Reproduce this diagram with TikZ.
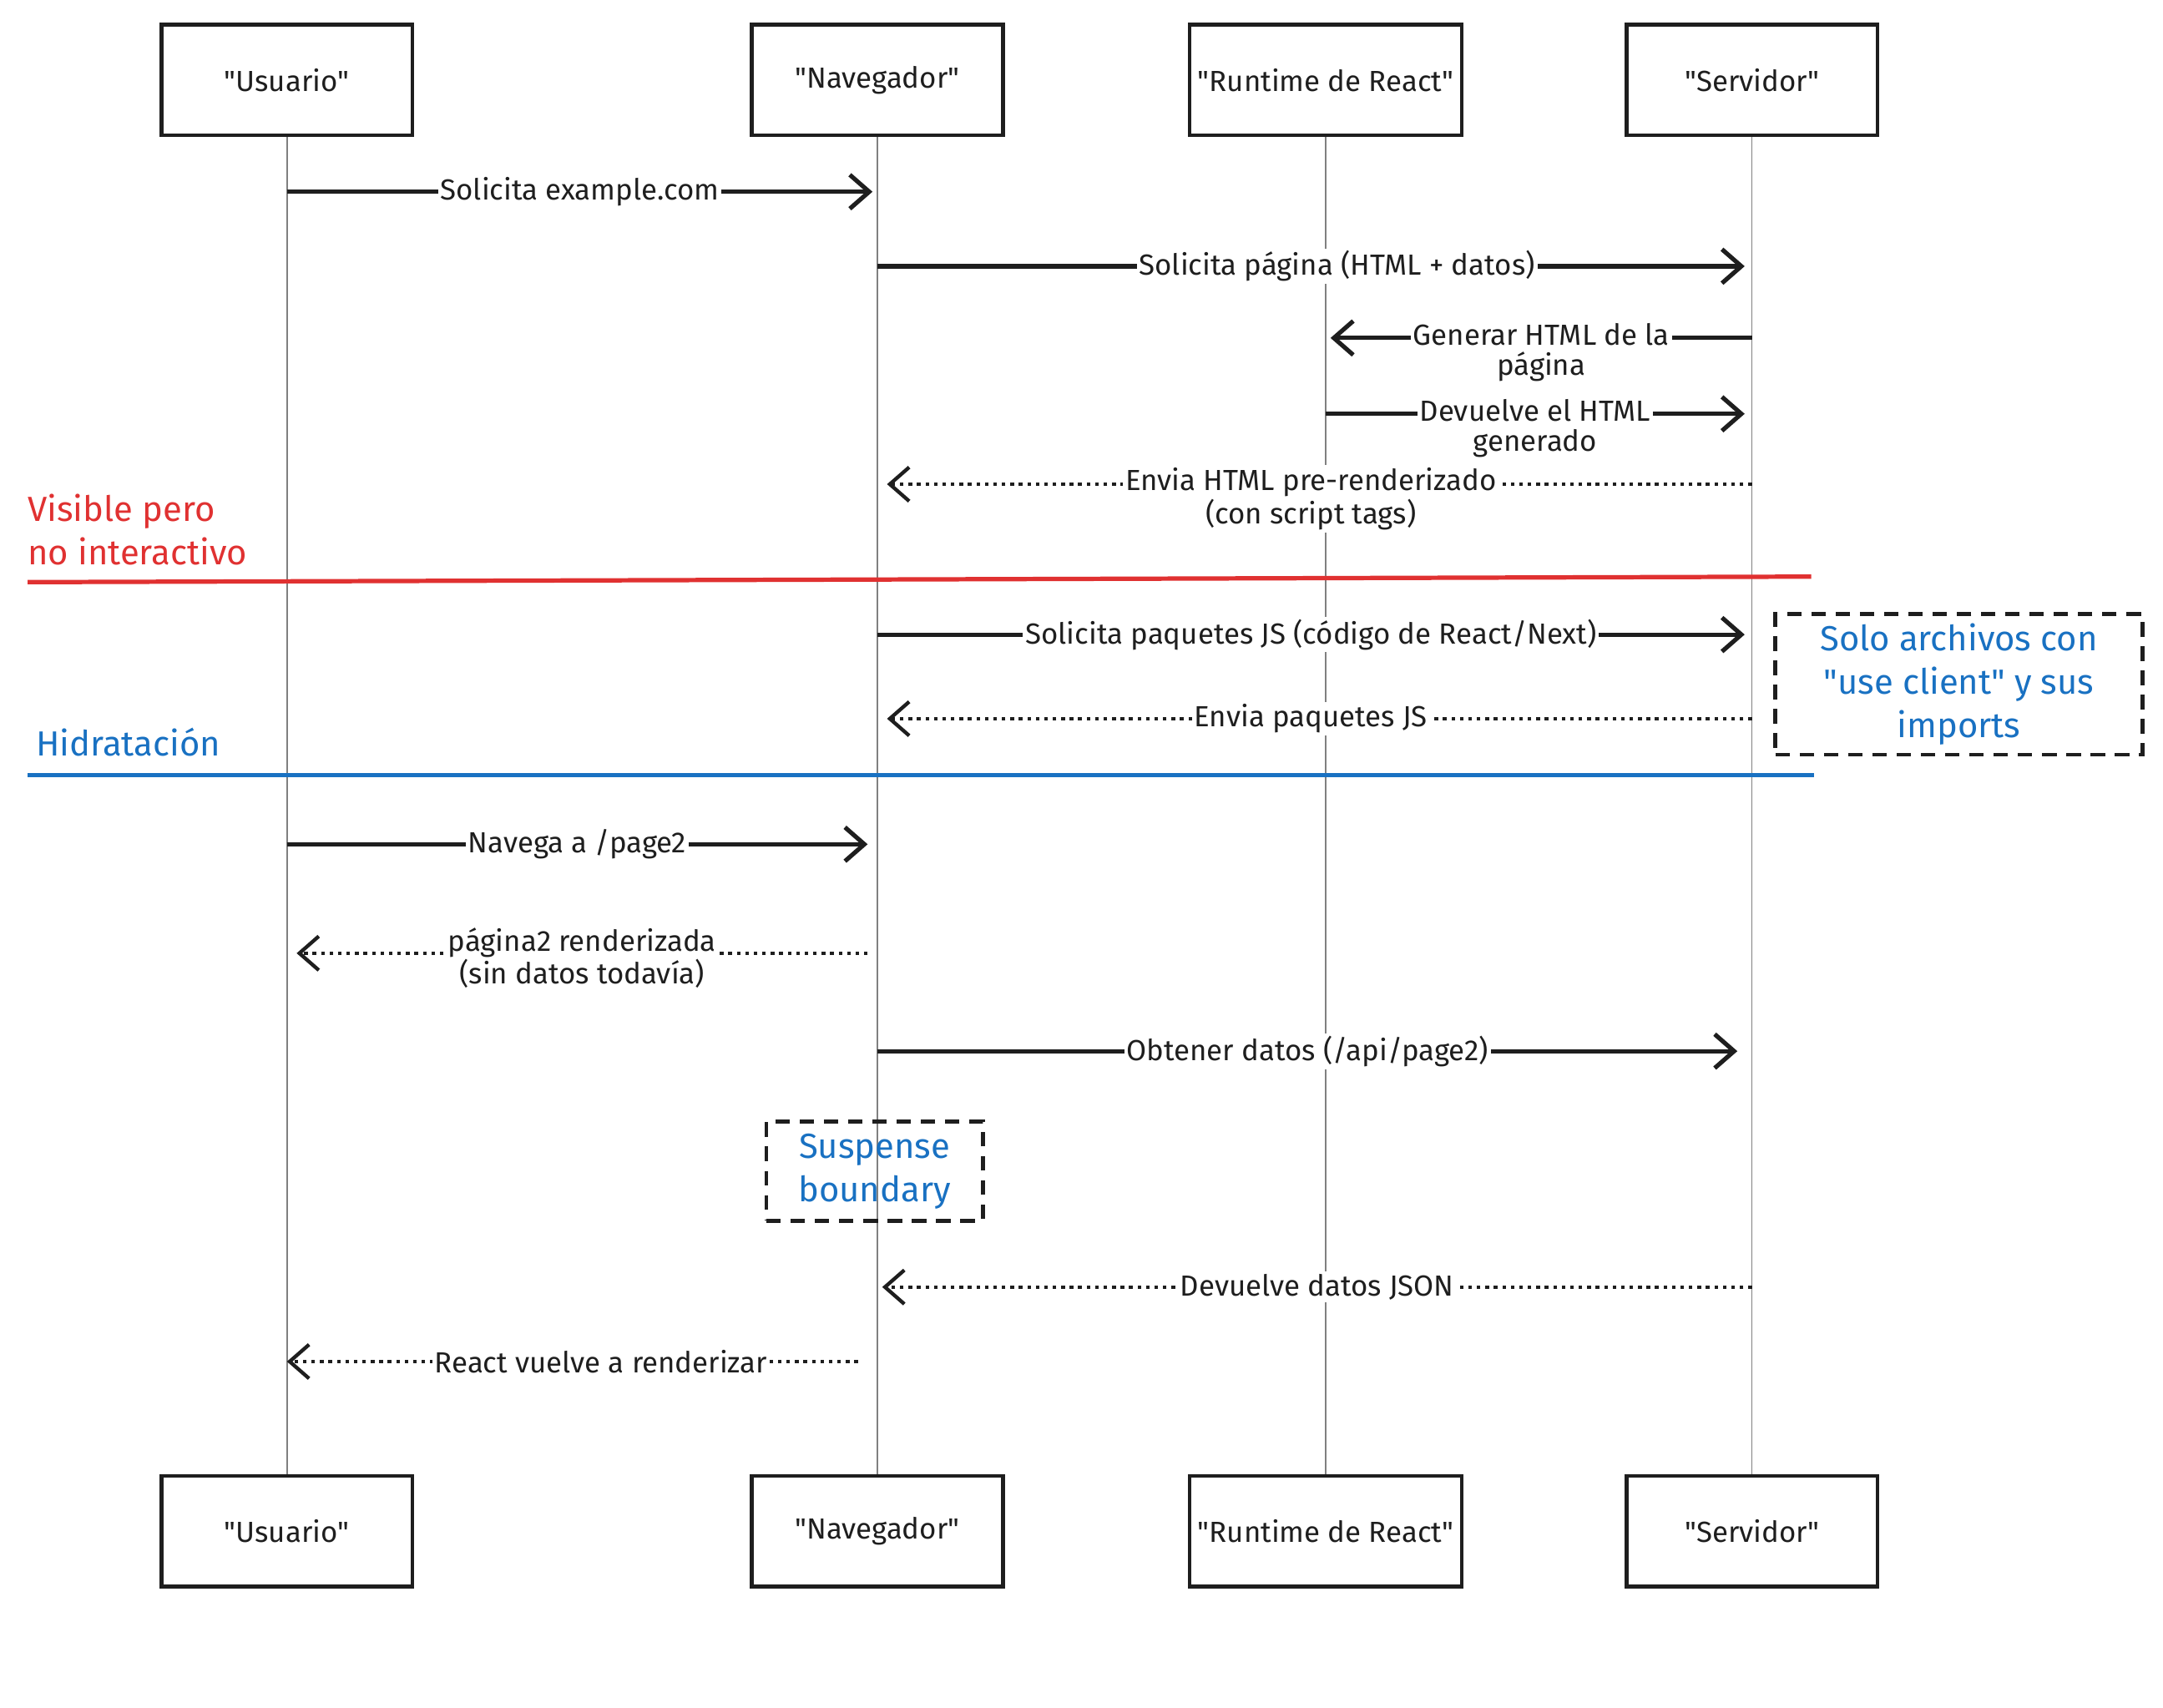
\documentclass[tikz,border=0pt]{standalone}
\usepackage{fontspec}
\setmainfont{Fira Sans}
\usetikzlibrary{arrows.meta}
\definecolor{rd}{HTML}{E03131}
\definecolor{bl}{HTML}{1971C2}
\definecolor{ink}{HTML}{1E1E1E}
\newcommand{\qq}[1]{\textquotedbl#1\textquotedbl}
\begin{document}
\begin{tikzpicture}[x=0.02cm,y=-0.02cm,
 actor/.style={draw=ink,line width=1.6pt,minimum width=3.64cm,minimum height=1.6cm,font=\large,text=ink},
 life/.style={draw=gray,line width=0.6pt},
 msg/.style={draw=ink,line width=1.8pt,-{Straight Barb[length=8pt,width=14pt]}},
 ret/.style={draw=ink,line width=1.5pt,dotted,-{Straight Barb[length=8pt,width=14pt]}},
 lab/.style={fill=white,inner sep=1pt,font=\large\linespread{0.9}\selectfont,text=ink,align=center},
 note/.style={draw=ink,line width=1.6pt,dash pattern=on 6pt off 4pt,text=bl,font=\Large,align=center}]
\useasboundingbox (0,0) rectangle (1568,1238);
\foreach \n/\x/\t/\w in {u/208/Usuario/3.64cm,n/636/Navegador/3.64cm,r/961/Runtime de React/3.94cm,s/1270/Servidor/3.64cm}{
  \node[actor,minimum width=\w] (\n1) at (\x,58) {\qq{\t}};
  \node[actor,minimum width=\w] (\n2) at (\x,1110) {\qq{\t}};
  \draw[life] (\n1.south) -- (\n2.north);
}
\foreach \n/\x in {u/208,n/636,r/961,s/1270}{
 \foreach \y in {139,193,245,300,351,460,521,612,691,762,933,987}{
  \coordinate (\n\y) at (\x,\y);}}
\draw[msg] (u139) -- ([xshift=-2]n139) node[lab,midway] {Solicita example.com};
\draw[msg] (n193) -- ([xshift=-3]s193) node[lab,pos=0.53] {Solicita página (HTML + datos)};
\draw[msg] (s245) -- ([xshift=2]r245) node[lab,pos=0.5,yshift=-6] {Generar HTML de la\\página};
\draw[msg] (r300) -- ([xshift=-3]s300) node[lab,pos=0.5,yshift=-6] {Devuelve el HTML\\generado};
\draw[ret] (s351) -- ([xshift=4]n351) node[lab,pos=0.51,yshift=-6] {Envia HTML pre-renderizado\\(con script tags)};
\draw[rd,line width=1.8pt] (20,422) -- (1313,418);
\node[text=rd,font=\Large,align=left,anchor=north west] (vis) at (14,352) {Visible pero\\no interactivo};
\draw[msg] (n460) -- ([xshift=-3]s460) node[lab,pos=0.5] {Solicita paquetes JS (código de React/Next)};
\draw[ret] (s521) -- ([xshift=4]n521) node[lab,pos=0.51] {Envia paquetes JS};
\node[note,minimum width=5.32cm,minimum height=2.04cm] (sol) at (1420,496) {Solo archivos con\\\qq{use client} y sus\\imports};
\draw[bl,line width=1.8pt] (20,562) -- (1315,562);
\node[text=bl,font=\Large,anchor=west] (hid) at (20,538) {Hidratación};
\draw[msg] (u612) -- ([xshift=-4]n612) node[lab,midway] {Navega a /page2};
\draw[ret] ([xshift=-4]n691) -- ([xshift=4]u691) node[lab,midway,yshift=-2] {página2 renderizada\\(sin datos todavía)};
\draw[msg] (n762) -- ([xshift=-6]s762) node[lab,pos=0.5] {Obtener datos (/api/page2)};
\node[note,minimum width=3.14cm,minimum height=1.44cm] (sus) at (634,849) {Suspense\\boundary};
\draw[ret] (s933) -- ([xshift=2]n933) node[lab,pos=0.5] {Devuelve datos JSON};
\draw[ret] ([xshift=-8]n987) -- (u987) node[lab,pos=0.45] {React vuelve a renderizar};
\end{tikzpicture}
\end{document}
